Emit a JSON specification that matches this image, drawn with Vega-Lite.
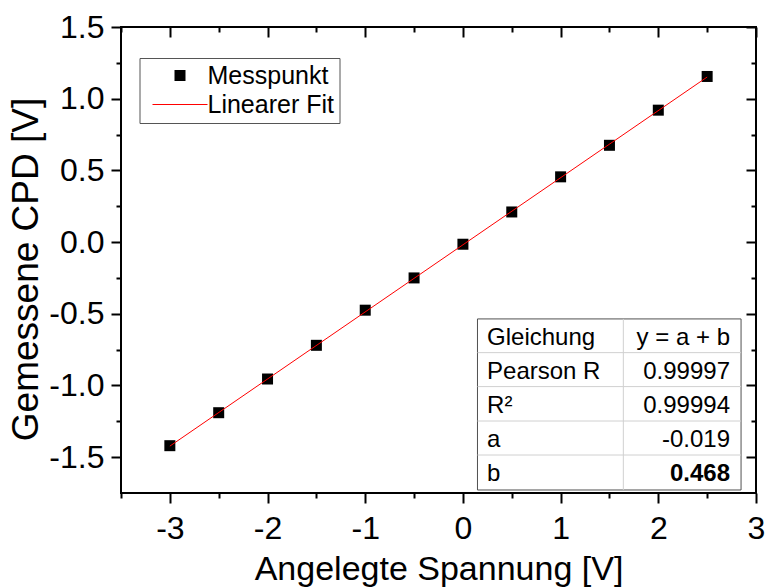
{
"$schema":"https://vega.github.io/schema/vega-lite/v6.json",
"width":635,"height":466,
"autosize":{"type":"none"},
"padding":{"left":121,"top":27,"right":9,"bottom":94},
"background":"white",
"config":{
 "view":{"stroke":"black","strokeWidth":2},
 "font":"Liberation Sans",
 "axis":{"grid":false,"domain":false,"tickColor":"black","tickWidth":2,"labelColor":"black","labelFont":"Liberation Sans","labelFontSize":32,"titleFont":"Liberation Sans","titleFontSize":34,"titleFontWeight":"normal","titleColor":"black"},
 "legend":{"orient":"none","legendX":18.5,"legendY":31,"padding":5,"strokeColor":"#555555","strokeWidth":1,"fillColor":"white","labelFont":"Liberation Sans","labelFontSize":25,"labelColor":"black","symbolSize":121,"symbolOffset":23,"labelOffset":15,"rowPadding":3,"symbolStrokeWidth":0,"labelLimit":300}
},
"datasets":{
 "messung":[
  {"Spannung":-3,"CPD":-1.42,"Reihe":"Messpunkt"},
  {"Spannung":-2.5,"CPD":-1.19,"Reihe":"Messpunkt"},
  {"Spannung":-2,"CPD":-0.955,"Reihe":"Messpunkt"},
  {"Spannung":-1.5,"CPD":-0.72,"Reihe":"Messpunkt"},
  {"Spannung":-1,"CPD":-0.475,"Reihe":"Messpunkt"},
  {"Spannung":-0.5,"CPD":-0.25,"Reihe":"Messpunkt"},
  {"Spannung":0,"CPD":-0.015,"Reihe":"Messpunkt"},
  {"Spannung":0.5,"CPD":0.21,"Reihe":"Messpunkt"},
  {"Spannung":1,"CPD":0.455,"Reihe":"Messpunkt"},
  {"Spannung":1.5,"CPD":0.675,"Reihe":"Messpunkt"},
  {"Spannung":2,"CPD":0.92,"Reihe":"Messpunkt"},
  {"Spannung":2.5,"CPD":1.155,"Reihe":"Messpunkt"}
 ],
 "fit":[
  {"Spannung":-3,"CPD":-1.423},
  {"Spannung":2.5,"CPD":1.151}
 ],
 "tabelle":[
  {"Groesse":"Gleichung","Wert":"y = a + b"},
  {"Groesse":"Pearson R","Wert":"0.99997"},
  {"Groesse":"R²","Wert":"0.99994"},
  {"Groesse":"a","Wert":"-0.019"},
  {"Groesse":"b","Wert":"0.468"}
 ]
},
"resolve":{"axis":{"x":"independent","y":"independent"}},
"layer":[
 {"data":{"name":"messung"},
  "mark":{"type":"point","filled":true,"size":121,"opacity":1},
  "encoding":{
   "x":{"field":"Spannung","type":"quantitative","scale":{"domain":[-3.5,3],"nice":false,"zero":false},
        "axis":{"orient":"bottom","values":[-3,-2,-1,0,1,2,3],"tickSize":10,"labelPadding":10,"format":"d","labelExpr":"replace(datum.label, '−', '-')","labelFlush":false,"labelOverlap":false,"title":"Angelegte Spannung [V]","titlePadding":8}},
   "y":{"field":"CPD","type":"quantitative","scale":{"domain":[-1.75,1.5],"nice":false,"zero":false},
        "axis":{"orient":"left","values":[-1.5,-1,-0.5,0,0.5,1,1.5],"tickSize":10,"labelPadding":7,"format":".1f","labelExpr":"replace(datum.label, '−', '-')","labelFlush":false,"labelOverlap":false,"title":"Gemessene CPD [V]","titleFontSize":37,"titlePadding":3,"titleY":242}},
   "color":{"field":"Reihe","type":"nominal","scale":{"domain":["Messpunkt","Linearer Fit"],"range":["black","red"]},"legend":{"title":null}},
   "shape":{"field":"Reihe","type":"nominal","scale":{"domain":["Messpunkt","Linearer Fit"],"range":["square","M-5,-0.1H5V0.1H-5Z"]},"legend":{"title":null}}
  }},
 {"data":{"name":"fit"},
  "mark":{"type":"line","color":"red","strokeWidth":1},
  "encoding":{
   "x":{"field":"Spannung","type":"quantitative","axis":{"orient":"bottom","values":[-3.5,-2.5,-1.5,-0.5,0.5,1.5,2.5],"tickSize":5,"labels":false,"title":null}},
   "y":{"field":"CPD","type":"quantitative","axis":{"orient":"left","values":[-1.25,-0.75,-0.25,0.25,0.75,1.25],"tickSize":5,"labels":false,"title":null}}
  }},
 {"data":{"values":[{}]},
  "mark":{"type":"rect","fill":"white","stroke":"#505050","strokeWidth":1},
  "encoding":{
   "x":{"datum":0.149,"type":"quantitative","axis":{"orient":"top","values":[-3,-2,-1,0,1,2,3],"tickSize":-10,"labels":false,"title":null}},
   "x2":{"datum":2.847},
   "y":{"datum":-0.536,"type":"quantitative","axis":{"orient":"right","values":[-1.5,-1,-0.5,0,0.5,1,1.5],"tickSize":-10,"labels":false,"title":null}},
   "y2":{"datum":-1.729}
  }},
 {"data":{"values":[{}]},
  "mark":{"type":"rule","color":"#d0d0d0","strokeWidth":1},
  "encoding":{
   "x":{"datum":1.642,"type":"quantitative","axis":{"orient":"top","values":[-3.5,-2.5,-1.5,-0.5,0.5,1.5,2.5],"tickSize":-5,"labels":false,"title":null}},
   "y":{"datum":-0.536,"type":"quantitative","axis":{"orient":"right","values":[-1.25,-0.75,-0.25,0.25,0.75,1.25],"tickSize":-5,"labels":false,"title":null}},
   "y2":{"datum":-1.729}
  }},
 {"data":{"values":[{}]},"mark":{"type":"rule","color":"#d0d0d0","strokeWidth":1},
  "encoding":{"x":{"datum":0.149,"type":"quantitative","axis":null},"x2":{"datum":2.847},"y":{"datum":-0.771,"type":"quantitative","axis":null}}},
 {"data":{"values":[{}]},"mark":{"type":"rule","color":"#d0d0d0","strokeWidth":1},
  "encoding":{"x":{"datum":0.149,"type":"quantitative","axis":null},"x2":{"datum":2.847},"y":{"datum":-1.008,"type":"quantitative","axis":null}}},
 {"data":{"values":[{}]},"mark":{"type":"rule","color":"#d0d0d0","strokeWidth":1},
  "encoding":{"x":{"datum":0.149,"type":"quantitative","axis":null},"x2":{"datum":2.847},"y":{"datum":-1.248,"type":"quantitative","axis":null}}},
 {"data":{"values":[{}]},"mark":{"type":"rule","color":"#d0d0d0","strokeWidth":1},
  "encoding":{"x":{"datum":0.149,"type":"quantitative","axis":null},"x2":{"datum":2.847},"y":{"datum":-1.485,"type":"quantitative","axis":null}}},
 {"data":{"name":"tabelle"},"transform":[{"filter":"datum.Groesse === 'Gleichung'"}],
  "mark":{"type":"text","align":"left","baseline":"middle","fontSize":24,"color":"black"},
  "encoding":{"x":{"datum":0.247,"type":"quantitative","axis":null},"y":{"datum":-0.668,"type":"quantitative","axis":null},"text":{"field":"Groesse"}}},
 {"data":{"name":"tabelle"},"transform":[{"filter":"datum.Groesse === 'Gleichung'"}],
  "mark":{"type":"text","align":"right","baseline":"middle","fontSize":24,"color":"black"},
  "encoding":{"x":{"datum":2.734,"type":"quantitative","axis":null},"y":{"datum":-0.668,"type":"quantitative","axis":null},"text":{"field":"Wert"}}},
 {"data":{"name":"tabelle"},"transform":[{"filter":"datum.Groesse === 'Pearson R'"}],
  "mark":{"type":"text","align":"left","baseline":"middle","fontSize":24,"color":"black"},
  "encoding":{"x":{"datum":0.247,"type":"quantitative","axis":null},"y":{"datum":-0.904,"type":"quantitative","axis":null},"text":{"field":"Groesse"}}},
 {"data":{"name":"tabelle"},"transform":[{"filter":"datum.Groesse === 'Pearson R'"}],
  "mark":{"type":"text","align":"right","baseline":"middle","fontSize":24,"color":"black"},
  "encoding":{"x":{"datum":2.734,"type":"quantitative","axis":null},"y":{"datum":-0.904,"type":"quantitative","axis":null},"text":{"field":"Wert"}}},
 {"data":{"name":"tabelle"},"transform":[{"filter":"datum.Groesse === 'R²'"}],
  "mark":{"type":"text","align":"left","baseline":"middle","fontSize":24,"color":"black"},
  "encoding":{"x":{"datum":0.247,"type":"quantitative","axis":null},"y":{"datum":-1.142,"type":"quantitative","axis":null},"text":{"field":"Groesse"}}},
 {"data":{"name":"tabelle"},"transform":[{"filter":"datum.Groesse === 'R²'"}],
  "mark":{"type":"text","align":"right","baseline":"middle","fontSize":24,"color":"black"},
  "encoding":{"x":{"datum":2.734,"type":"quantitative","axis":null},"y":{"datum":-1.142,"type":"quantitative","axis":null},"text":{"field":"Wert"}}},
 {"data":{"name":"tabelle"},"transform":[{"filter":"datum.Groesse === 'a'"}],
  "mark":{"type":"text","align":"left","baseline":"middle","fontSize":24,"color":"black"},
  "encoding":{"x":{"datum":0.247,"type":"quantitative","axis":null},"y":{"datum":-1.38,"type":"quantitative","axis":null},"text":{"field":"Groesse"}}},
 {"data":{"name":"tabelle"},"transform":[{"filter":"datum.Groesse === 'a'"}],
  "mark":{"type":"text","align":"right","baseline":"middle","fontSize":24,"color":"black"},
  "encoding":{"x":{"datum":2.734,"type":"quantitative","axis":null},"y":{"datum":-1.38,"type":"quantitative","axis":null},"text":{"field":"Wert"}}},
 {"data":{"name":"tabelle"},"transform":[{"filter":"datum.Groesse === 'b'"}],
  "mark":{"type":"text","align":"left","baseline":"middle","fontSize":24,"color":"black"},
  "encoding":{"x":{"datum":0.247,"type":"quantitative","axis":null},"y":{"datum":-1.62,"type":"quantitative","axis":null},"text":{"field":"Groesse"}}},
 {"data":{"name":"tabelle"},"transform":[{"filter":"datum.Groesse === 'b'"}],
  "mark":{"type":"text","align":"right","baseline":"middle","fontSize":24,"fontWeight":"bold","color":"black"},
  "encoding":{"x":{"datum":2.734,"type":"quantitative","axis":null},"y":{"datum":-1.62,"type":"quantitative","axis":null},"text":{"field":"Wert"}}}
]
}
